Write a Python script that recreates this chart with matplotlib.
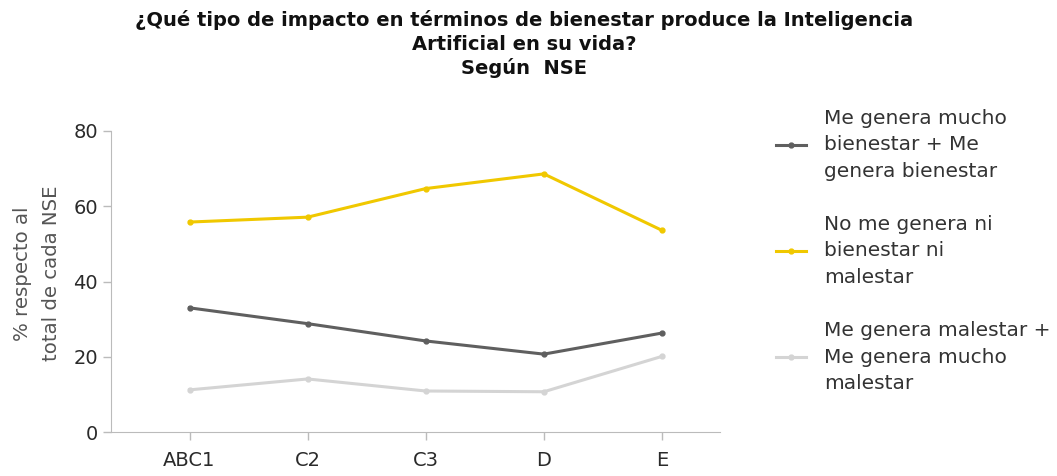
"""
Line chart: impacto de la IA en el bienestar, según NSE.
"""

import matplotlib
matplotlib.use("Agg")
import matplotlib.pyplot as plt

# data
categories = ["ABC1", "C2", "C3", "D", "E"]
bienestar = [33.0, 28.8, 24.2, 20.7, 26.3]
neutral = [55.8, 57.1, 64.7, 68.6, 53.6]
malestar = [11.2, 14.1, 10.9, 10.7, 20.1]

series_labels = [
    "Me genera mucho\nbienestar + Me\ngenera bienestar",
    "No me genera ni\nbienestar ni\nmalestar",
    "Me genera malestar +\nMe genera mucho\nmalestar",
]
series_colors = ["#5f5f5f", "#f0c800", "#d4d4d4"]

title = ("¿Qué tipo de impacto en términos de bienestar produce la Inteligencia\n"
         "Artificial en su vida?\nSegún  NSE")
ylabel = "% respecto al\ntotal de cada NSE"
yticks = [0, 20, 40, 60, 80]

plt.rcParams["font.family"] = ["DejaVu Sans"]

fig = plt.figure(figsize=(10.57, 4.76), dpi=100)
ax = fig.add_axes([0.105, 0.0924, 0.576, 0.6324])

x = range(len(categories))
for vals, lab, col in zip([bienestar, neutral, malestar], series_labels, series_colors):
    ax.plot(x, vals, color=col, lw=2.2, marker="o", ms=3.5, label=lab)

ax.set_xlim(-0.665, 4.49)
ax.set_ylim(0, 80)
ax.set_yticks(yticks)
ax.set_xticks(list(x))
ax.set_xticklabels(categories)
ax.tick_params(axis="both", labelsize=14, colors="#bbbbbb", labelcolor="#2a2a2a",
               length=6, width=1)
ax.tick_params(axis="x", pad=8)
for s in ["top", "right"]:
    ax.spines[s].set_visible(False)
for s in ["left", "bottom"]:
    ax.spines[s].set_color("#bbbbbb")
ax.set_ylabel(ylabel, fontsize=14.2, color="#555555", linespacing=1.65)
ax.yaxis.set_label_coords(-0.082, 0.527)

fig.text(0.496, 0.978, title, ha="center", va="top", fontsize=14,
         fontweight="bold", color="#111111", linespacing=1.28)

leg = fig.legend(loc="upper left", bbox_to_anchor=(0.717, 0.81), frameon=False,
                 fontsize=14.5, handlelength=1.5, handletextpad=0.9, labelspacing=1.7,
                 labelcolor="#333333")
for t in leg.get_texts():
    t.set_linespacing(1.5)

fig.savefig("out.png", dpi=100)
